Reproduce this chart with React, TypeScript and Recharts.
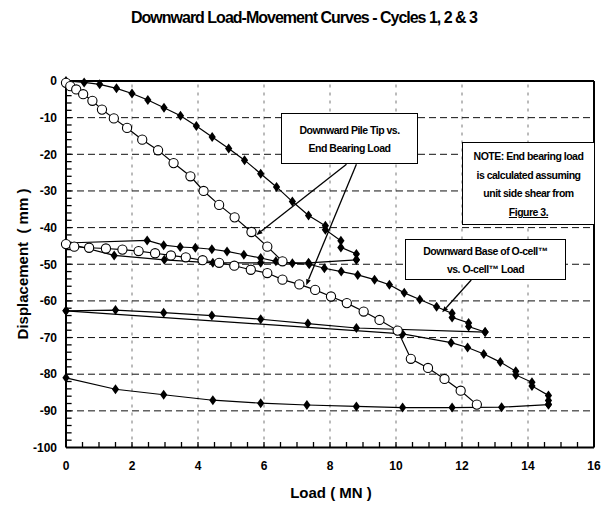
import React from "react";
import { Line, LineChart, ReferenceLine, XAxis, YAxis } from "recharts";

// Base of O-cell vs O-cell load (filled diamonds), [load MN, displacement mm]
const ocellLoad1 = [
  [0, 0], [0.55, -0.4], [1.02, -0.9], [1.53, -2], [2.0, -3.4], [2.48, -5.2], [2.97, -7.3],
  [3.47, -9.5], [3.95, -12.3], [4.43, -15.3], [4.93, -18.4], [5.41, -21.6], [5.9, -25.3],
  [6.38, -28.9], [6.86, -32.9], [7.35, -36.7], [7.86, -39.5], [7.86, -40.6], [8.33, -43.6],
  [8.33, -45.4], [8.8, -47.2], [8.8, -48.8]
];
const ocellUnload1 = [
  [8.8, -48.8], [7.35, -49.6], [5.9, -49.6], [4.45, -49.6], [2.98, -48.8], [1.46, -47.6], [0, -44.2]
];
const ocellLoad2 = [
  [0, -44.2], [2.46, -43.5], [2.96, -44.8], [3.46, -45.3], [3.92, -45.5], [4.42, -45.9],
  [4.88, -46.5], [5.39, -47.4], [5.9, -48.3], [6.36, -49.2], [6.86, -49.7], [7.37, -50],
  [7.83, -51.1], [8.34, -52], [8.84, -52.9], [9.35, -54.2], [9.8, -55.6], [10.25, -57.8],
  [10.72, -59.6], [11.23, -61.6], [11.7, -63.4], [11.7, -64.5], [12.2, -66], [12.2, -67],
  [12.7, -68.5]
];
const ocellUnload2 = [
  [12.7, -68.5], [8.8, -67.4], [7.33, -66.2], [5.9, -65], [4.42, -64], [2.96, -63.2],
  [1.5, -62.5], [0, -62.7]
];
const ocellLoad3 = [
  [0, -62.7], [10.2, -69], [11.67, -71.4], [12.17, -72.7], [12.66, -74.5], [13.16, -76.7],
  [13.63, -79.2], [13.63, -80.2], [14.12, -82.2], [14.12, -83.2], [14.62, -85.8],
  [14.62, -87.2], [14.62, -88.3]
];
const ocellUnload3 = [
  [14.62, -88.3], [13.2, -89], [11.7, -89.1], [10.2, -89.1], [8.8, -88.8], [7.3, -88.4],
  [5.9, -87.9], [4.45, -87.1], [2.96, -85.6], [1.5, -84.1], [0, -81]
];

// Pile tip vs end bearing load (open circles)
const tipCycle1 = [
  [0, -0.5], [0.13, -1.4], [0.31, -2.3], [0.52, -3.6], [0.8, -5.4], [1.09, -7.8], [1.45, -10.2],
  [1.85, -12.8], [2.31, -16], [2.79, -18.9], [3.26, -22.4], [3.77, -26], [4.17, -30],
  [4.64, -33.8], [5.11, -37.2], [5.62, -41.2], [6.1, -45.2], [6.56, -49.2]
];
const tipCycle2 = [
  [0, -44.5], [0.25, -45.2], [0.7, -45.5], [1.21, -45.7], [1.71, -46], [2.2, -46.4], [2.7, -47],
  [3.18, -47.6], [3.63, -48.1], [4.14, -48.9], [4.64, -49.6], [5.1, -50.4], [5.6, -51.5],
  [6.1, -52.4], [6.56, -54.2], [7.07, -55.5], [7.55, -57], [8.03, -58.8], [8.51, -60.6],
  [9.02, -62.9], [9.5, -65.2], [10.05, -68.1], [10.45, -75.8], [10.97, -78.3], [11.47, -81.3],
  [11.96, -84.5], [12.45, -88.3]
];

const xLabels = [0, 2, 4, 6, 8, 10, 12, 14, 16];
const yLabels = [0, -10, -20, -30, -40, -50, -60, -70, -80, -90, -100];
const xGrid = [2, 4, 6, 8, 10, 12, 14];
const yGrid = [-10, -20, -30, -40, -50, -60, -70, -80, -90];
const xMinor = Array.from({ length: 31 }, (_, i) => (i + 1) * 0.5);
const yMinor = Array.from({ length: 49 }, (_, i) => -(i + 1) * 2);

const FONT = "'Liberation Sans', Arial, Helvetica, sans-serif";
const toPts = (arr: number[][]) => arr.map(([x, y]) => ({ x, y }));

const diamond = (p: any) => {
  const { cx, cy, index } = p;
  if (cx == null || cy == null) return <g key={`d${index}`} />;
  return (
    <path key={`d${index}`} d={`M${cx},${cy - 5}L${cx + 3.6},${cy}L${cx},${cy + 5}L${cx - 3.6},${cy}Z`} fill="#000" />
  );
};

const circle = (p: any) => {
  const { cx, cy, index } = p;
  if (cx == null || cy == null) return <g key={`c${index}`} />;
  return <circle key={`c${index}`} cx={cx} cy={cy} r={4.6} fill="#fff" stroke="#000" strokeWidth={1.1} />;
};

const Arrow = (props: any) => {
  const { x1, y1, x2, y2 } = props;
  const a = Math.atan2(y2 - y1, x2 - x1);
  const s = 6;
  const w = 2.5;
  const bx = x2 - s * Math.cos(a);
  const by = y2 - s * Math.sin(a);
  const px = -Math.sin(a) * w;
  const py = Math.cos(a) * w;
  return (
    <g>
      <line x1={x1} y1={y1} x2={bx} y2={by} stroke="#000" strokeWidth={1.3} />
      <path d={`M${x2},${y2}L${bx + px},${by + py}L${bx - px},${by - py}Z`} fill="#000" />
    </g>
  );
};

const TickMark = (props: any) => {
  const { x1, y1, x2, y2 } = props;
  return <path d={`M${x1},${y1}L${x2},${y2}`} stroke="#000" strokeWidth={1.3} fill="none" />;
};

const series = [
  { data: ocellLoad1, dot: diamond },
  { data: ocellUnload1, dot: diamond },
  { data: ocellLoad2, dot: diamond },
  { data: ocellUnload2, dot: diamond },
  { data: ocellLoad3, dot: diamond },
  { data: ocellUnload3, dot: diamond },
  { data: tipCycle1, dot: circle },
  { data: tipCycle2, dot: circle }
];

const tickStyle = { fontFamily: FONT, fontWeight: "bold", fontSize: 12, fill: "#000" };

const boxStyle: React.CSSProperties = {
  position: "absolute",
  background: "#fff",
  border: "1px solid #000",
  boxSizing: "border-box",
  fontFamily: FONT,
  fontWeight: "bold",
  fontSize: 10.5,
  letterSpacing: -0.5,
  textAlign: "center",
  lineHeight: "18px",
  color: "#000",
  whiteSpace: "nowrap"
};

export default function App() {
  return (
    <div style={{ position: "absolute", left: 0, top: 0, width: 605, height: 520, background: "#fff" }}>
      <LineChart width={605} height={520} margin={{ top: 81, right: 11, bottom: 0, left: 0 }}>
        {xGrid.map((v) => (
          <ReferenceLine key={`gx${v}`} x={v} stroke="#777" strokeWidth={1} strokeDasharray="3 5" />
        ))}
        {yGrid.map((v) => (
          <ReferenceLine key={`gy${v}`} y={v} stroke="#111" strokeWidth={1} strokeDasharray="7 4" />
        ))}
        {xMinor.map((v) => (
          <ReferenceLine key={`mx${v}`} segment={[{ x: v, y: -100 }, { x: v, y: -98.5 }]} shape={TickMark} ifOverflow="visible" />
        ))}
        {yMinor.map((v) => (
          <ReferenceLine key={`my${v}`} segment={[{ x: 0, y: v }, { x: 0.17, y: v }]} shape={TickMark} ifOverflow="visible" />
        ))}
        <ReferenceLine y={0} stroke="#000" strokeWidth={2} />
        <ReferenceLine x={16} stroke="#000" strokeWidth={2} />
        {series.map((s, i) => (
          <Line
            key={i}
            data={toPts(s.data)}
            dataKey="y"
            type="linear"
            stroke="#000"
            strokeWidth={1.2}
            dot={s.dot}
            activeDot={false}
            isAnimationActive={false}
          />
        ))}
        <ReferenceLine segment={[{ x: 8.5, y: -22.7 }, { x: 5.77, y: -42 }]} shape={Arrow} />
        <ReferenceLine segment={[{ x: 8.8, y: -22.7 }, { x: 7.28, y: -55.7 }]} shape={Arrow} />
        <ReferenceLine segment={[{ x: 12.28, y: -54.3 }, { x: 11.4, y: -63.1 }]} shape={Arrow} />
        <XAxis
          type="number"
          dataKey="x"
          domain={[0, 16]}
          ticks={xLabels}
          interval={0}
          height={72.5}
          tickSize={0}
          tickMargin={14}
          tickLine={false}
          axisLine={{ stroke: "#000", strokeWidth: 2 }}
          tick={tickStyle}
        />
        <YAxis
          type="number"
          dataKey="y"
          domain={[-100, 0]}
          ticks={yLabels}
          interval={0}
          width={66}
          tickSize={0}
          tickMargin={9}
          tickLine={false}
          axisLine={{ stroke: "#000", strokeWidth: 2 }}
          tick={tickStyle}
        />
      </LineChart>

      <div style={{ position: "absolute", left: 304, top: 18, transform: "translate(-50%, -50%)", fontFamily: FONT, fontWeight: "bold", fontSize: 16, letterSpacing: -1, whiteSpace: "nowrap" }}>
        Downward Load-Movement Curves - Cycles 1, 2 &amp; 3
      </div>
      <div style={{ position: "absolute", left: 22, top: 264, transform: "translate(-50%, -50%) rotate(-90deg)", fontFamily: FONT, fontWeight: "bold", fontSize: 15, whiteSpace: "pre" }}>
        {"Displacement  ( mm )"}
      </div>
      <div style={{ position: "absolute", left: 331, top: 492, transform: "translate(-50%, -50%)", fontFamily: FONT, fontWeight: "bold", fontSize: 15, whiteSpace: "pre" }}>
        {"Load ( MN )"}
      </div>

      <div style={{ ...boxStyle, left: 281, top: 113, width: 137, height: 51, paddingTop: 7 }}>
        Downward Pile Tip vs.
        <br />
        End Bearing Load
      </div>
      <div style={{ ...boxStyle, left: 405, top: 239, width: 161, height: 41, paddingTop: 2 }}>
        Downward Base of O-cell™
        <br />
        vs. O-cell™ Load
      </div>
      <div style={{ ...boxStyle, left: 462, top: 142, width: 133, height: 83, paddingTop: 4, lineHeight: "18.7px" }}>
        NOTE: End bearing load
        <br />
        is calculated assuming
        <br />
        unit side shear from
        <br />
        <span style={{ textDecoration: "underline" }}>Figure 3.</span>
      </div>
    </div>
  );
}
